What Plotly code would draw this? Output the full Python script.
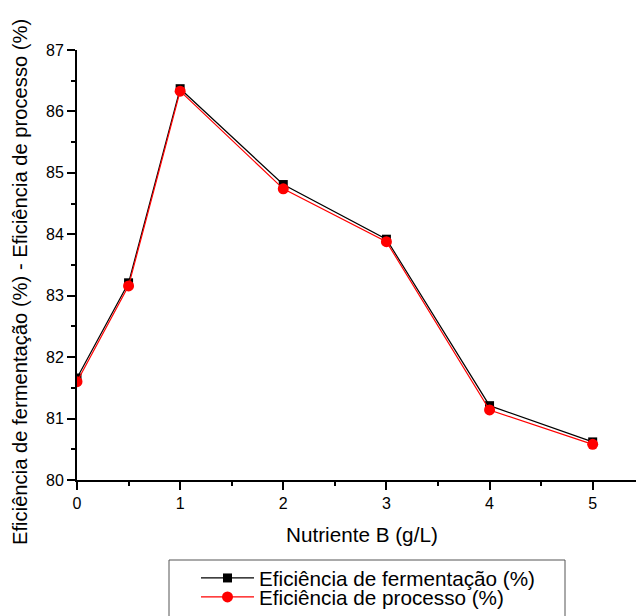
import plotly.graph_objects as go

nutriente = [0, 0.5, 1, 2, 3, 4, 5]
ef_fermentacao = [81.66, 83.21, 86.37, 84.81, 83.92, 81.21, 80.62]
ef_processo = [81.60, 83.16, 86.33, 84.74, 83.88, 81.14, 80.58]

x_title = "Nutriente B (g/L)"
y_title = "Eficiência de fermentação (%) - Eficiência de processo (%)"

W, H = 636, 616
L, R, T, B = 77, 0, 50, 136
PW, PH = W - L - R, H - T - B

def px_x(p):
    return (p - L) / PW

def px_y(p):
    return (H - B - p) / PH

fig = go.Figure()
fig.add_trace(go.Scatter(
    x=nutriente, y=ef_fermentacao, mode="lines+markers",
    name="Eficiência de fermentação (%)", legend="legend",
    line=dict(color="black", width=1.2),
    marker=dict(symbol="square", size=9, color="black"),
))
fig.add_trace(go.Scatter(
    x=nutriente, y=ef_processo, mode="lines+markers",
    name="Eficiência de processo (%)", legend="legend2",
    line=dict(color="red", width=1.2),
    marker=dict(symbol="circle", size=11, color="red"),
))

font_family = "Liberation Sans, Arial, sans-serif"
leg_common = dict(
    xref="container", yref="container", xanchor="left", yanchor="top",
    bgcolor="rgba(0,0,0,0)", borderwidth=0,
    font=dict(size=20.7, family=font_family, color="black"),
    itemwidth=53,
)
fig.update_layout(
    width=W, height=H,
    margin=dict(l=L, r=R, t=T, b=B, autoexpand=False),
    plot_bgcolor="white", paper_bgcolor="white",
    font=dict(family=font_family, color="black", size=16),
    showlegend=True,
    legend=dict(x=196 / W, y=(H - 558) / H, **leg_common),
    legend2=dict(x=196 / W, y=(H - 577) / H, **leg_common),
    xaxis=dict(
        range=[0, 5.42], tickvals=[0, 1, 2, 3, 4, 5],
        showline=True, linecolor="black", linewidth=2,
        ticks="outside", ticklen=8, tickwidth=2, tickcolor="black",
        minor=dict(dtick=0.5, tick0=0, ticks="outside", ticklen=4, tickwidth=2, tickcolor="black", showgrid=False),
        showgrid=False, zeroline=False, automargin=False,
        tickfont=dict(size=16),
    ),
    yaxis=dict(
        range=[80, 87], dtick=1,
        showline=True, linecolor="black", linewidth=2,
        ticks="outside", ticklen=8, tickwidth=2, tickcolor="black",
        minor=dict(dtick=0.5, tick0=80, ticks="outside", ticklen=4, tickwidth=2, tickcolor="black", showgrid=False),
        showgrid=False, zeroline=False, automargin=False,
        tickfont=dict(size=16),
    ),
    annotations=[
        dict(text=x_title, xref="paper", yref="paper",
             x=px_x(362), y=px_y(534), xanchor="center", yanchor="middle",
             showarrow=False, font=dict(size=20.7)),
        dict(text=y_title,
             xref="paper", yref="paper", textangle=-90,
             x=px_x(20), y=px_y(282), xanchor="center", yanchor="middle",
             showarrow=False, font=dict(size=20.2)),
    ],
    shapes=[
        dict(type="rect", xref="paper", yref="paper",
             x0=px_x(169), x1=px_x(565), y0=px_y(560), y1=px_y(630),
             line=dict(color="#555555", width=1), fillcolor="rgba(0,0,0,0)"),
    ],
)

fig.write_html("out.html")
